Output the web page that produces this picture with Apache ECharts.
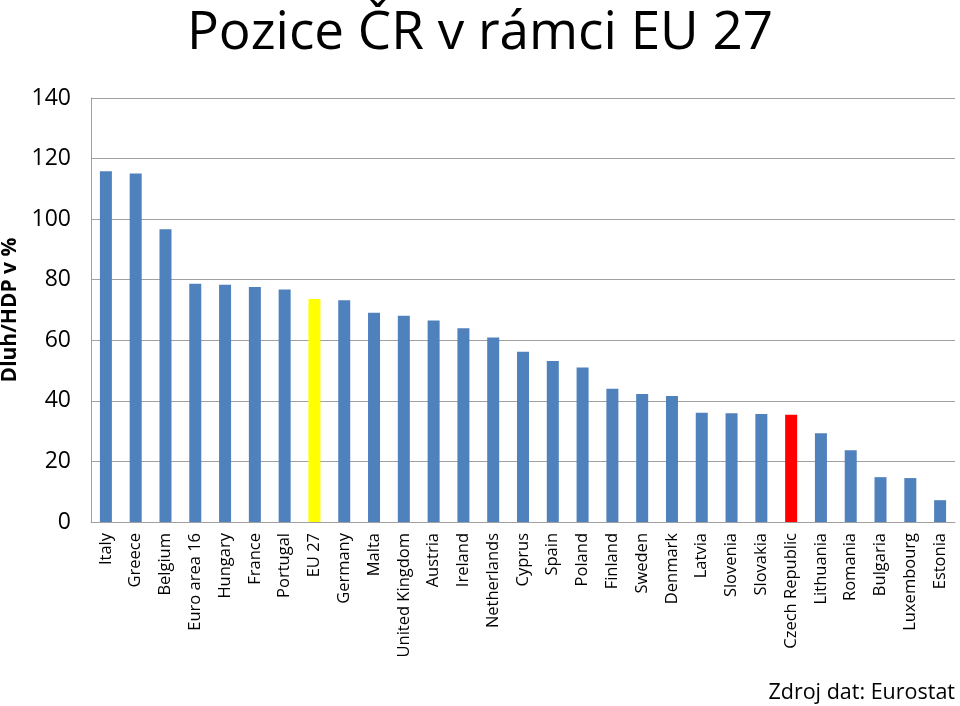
<!DOCTYPE html>
<html><head><meta charset="utf-8">
<script src="https://cdn.jsdelivr.net/npm/echarts@6/dist/echarts.min.js"></script>
<style>html,body{margin:0;padding:0;background:#fff}#c{width:960px;height:706px}</style>
</head><body><div id="c"></div>
<script>
const categories = ["Italy","Greece","Belgium","Euro area 16","Hungary","France","Portugal","EU 27","Germany","Malta","United Kingdom","Austria","Ireland","Netherlands","Cyprus","Spain","Poland","Finland","Sweden","Denmark","Latvia","Slovenia","Slovakia","Czech Republic","Lithuania","Romania","Bulgaria","Luxembourg","Estonia"];
const debtValues = [115.8,115.1,96.7,78.7,78.3,77.6,76.8,73.6,73.2,69.1,68.1,66.5,64.0,60.9,56.2,53.2,51.0,44.0,42.3,41.6,36.1,35.9,35.7,35.4,29.3,23.7,14.8,14.5,7.2];
const highlight = {"EU 27":"#ffff00","Czech Republic":"#ff0000"};
const yTicks = [0,20,40,60,80,100,120,140];
const font = "'Open Sans', 'DejaVu Sans', sans-serif";
const chart = echarts.init(document.getElementById('c'));
chart.setOption({
  animation:false,
  title:[{text:"Pozice ČR v rámci EU 27",left:475,top:2,textAlign:'center',textStyle:{fontFamily:font,fontSize:53,fontWeight:'normal',color:'#000'}},
         {text:"Zdroj dat: Eurostat",right:0,top:677,textStyle:{fontFamily:font,fontSize:21.5,fontWeight:'normal',color:'#000'}}],
  grid:{left:91,right:5,top:98,bottom:184,containLabel:false,outerBoundsMode:'none'},
  xAxis:{type:'category',data:categories,
    axisLine:{lineStyle:{color:'#a0a0a0'}},axisTick:{show:false},
    axisLabel:{rotate:90,interval:0,fontFamily:font,fontSize:16.5,color:'#000',margin:11}},
  yAxis:{type:'value',min:yTicks[0],max:yTicks[yTicks.length-1],interval:20,
    name:"Dluh/HDP v %",nameLocation:'middle',nameGap:70,nameRotate:90,
    nameTextStyle:{fontFamily:font,fontSize:21,fontWeight:'bold',color:'#000'},
    axisLine:{show:true,lineStyle:{color:'#a0a0a0'}},axisTick:{show:false},
    splitLine:{lineStyle:{color:'#a0a0a0'}},
    axisLabel:{fontFamily:font,fontSize:23,color:'#000',margin:20}},
  series:[{type:'bar',barWidth:12,
    data:debtValues.map((v,i)=>({value:v,itemStyle:{color:highlight[categories[i]]||'#4f81bd'}}))}]
});
</script></body></html>
